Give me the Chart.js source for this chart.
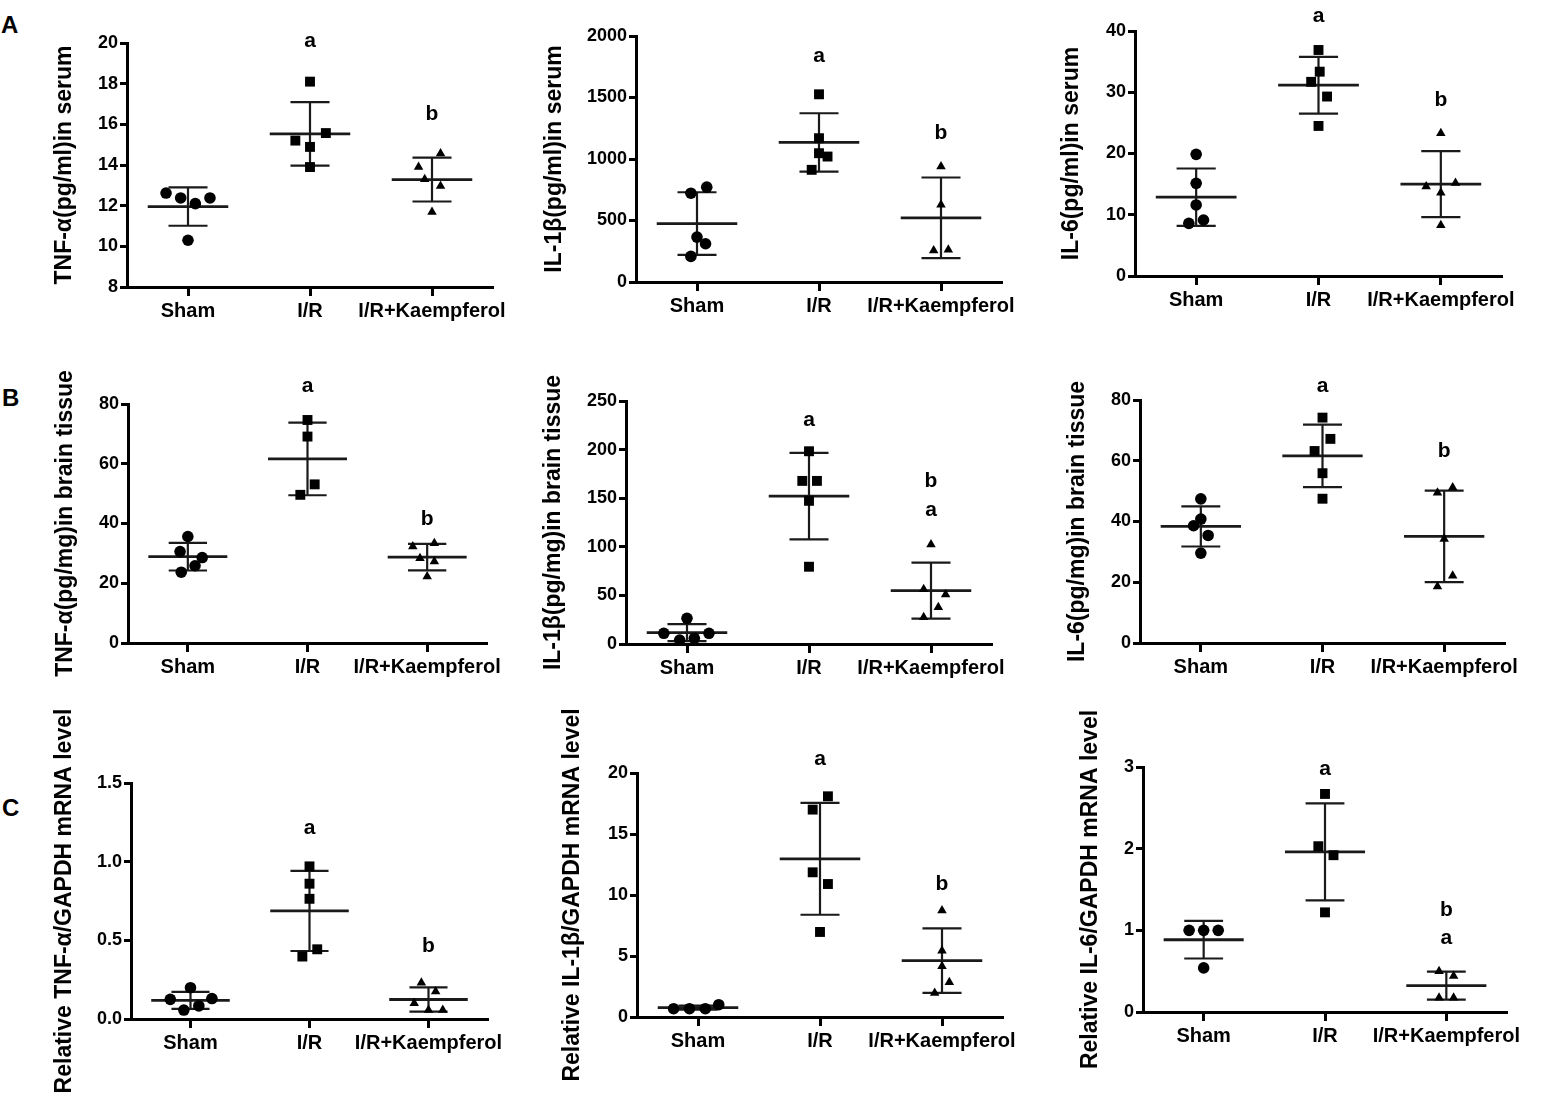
<!DOCTYPE html>
<html>
<head>
<meta charset="utf-8">
<script src="https://cdn.jsdelivr.net/npm/chart.js@4.4.1/dist/chart.umd.min.js"></script>
<style>
html, body { margin: 0; padding: 0; background: #fff; width: 1546px; height: 1100px; overflow: hidden; position: relative; }
canvas { position: absolute; }
.panel-letter { position: absolute; font-family: "Liberation Sans", Arial, sans-serif; font-size: 24px; font-weight: bold; line-height: 1; color: #000; }
</style>
</head>
<body>
<div class="panel-letter" style="left:1px;top:13px">A</div>
<div class="panel-letter" style="left:2px;top:386px">B</div>
<div class="panel-letter" style="left:2px;top:796px">C</div>
<script>
var groups = ['Sham', 'I/R', 'I/R+Kaempferol'];

// values per group [Sham, I/R, I/R+Kaempferol], jitter in category units
var tnfSerum = [[12.62, 12.38, 12.10, 12.38, 10.30], [18.1, 15.57, 15.2, 14.89, 13.9], [14.56, 13.9, 13.3, 12.97, 11.69]];
var tnfSerumJitter = [[-0.18, -0.06, 0.06, 0.18, 0], [0, 0.13, -0.12, 0, 0], [0.07, -0.11, -0.06, 0.07, 0]];
var tnfSerumLetters = [['a', 2, 20.1], ['b', 3, 16.5]];

var il1bSerum = [[722, 771, 365, 311, 208], [1526, 1169, 1047, 1020, 912], [939, 628, 257, 262]];
var il1bSerumJitter = [[-0.05, 0.08, 0, 0.07, -0.05], [0, 0, 0, 0.07, -0.06], [0, 0, -0.06, 0.06]];
var il1bSerumLetters = [['a', 2, 1838], ['b', 3, 1210]];

var il6Serum = [[19.86, 15.13, 11.6, 9.14, 8.6], [36.9, 33.36, 31.7, 29.3, 24.5], [23.3, 14.6, 15.2, 13.6, 8.3]];
var il6SerumJitter = [[0, 0, 0, 0.06, -0.06], [0, 0.01, -0.06, 0.07, 0], [0, -0.12, 0.12, 0, 0]];
var il6SerumLetters = [['a', 2, 42.4], ['b', 3, 28.7]];

var tnfBrain = [[35.65, 30.6, 28.6, 25.85, 23.7], [74.65, 69.1, 53.1, 49.6], [32.3, 33.4, 28.4, 27.3, 22.3]];
var tnfBrainJitter = [[0, -0.065, 0.12, 0.06, -0.055], [0, 0, 0.06, -0.06], [-0.12, 0.06, -0.06, 0.06, 0]];
var tnfBrainLetters = [['a', 2, 85.8], ['b', 3, 41.4]];

var il1bBrain = [[26.4, 11.0, 11.0, 4.1, 5.8], [198.3, 167.8, 167.8, 147.3, 79.5], [102.4, 56.2, 51.0, 37.7, 27.4]];
var il1bBrainJitter = [[0, -0.19, 0.18, -0.06, 0.06], [0, -0.055, 0.065, 0, 0], [0, -0.06, 0.12, 0.06, -0.06]];
var il1bBrainLetters = [['a', 2, 230], ['b', 3, 167.8], ['a', 3, 137.7]];

var il6Brain = [[47.45, 40.8, 38.6, 35.4, 29.6], [74.2, 67.2, 63.2, 55.9, 47.5], [49.5, 51.2, 34.2, 22.1, 18.6]];
var il6BrainJitter = [[0, 0, -0.06, 0.06, 0], [0, 0.065, -0.065, 0, 0], [-0.055, 0.07, 0, 0.07, -0.055]];
var il6BrainLetters = [['a', 2, 84.4], ['b', 3, 63.0]];

var tnfMrna = [[0.199, 0.125, 0.13, 0.083, 0.057], [0.97, 0.86, 0.764, 0.443, 0.397], [0.231, 0.174, 0.1, 0.057, 0.057]];
var tnfMrnaJitter = [[0, -0.17, 0.18, 0.07, -0.056], [0, 0, 0, 0.065, -0.06], [-0.06, 0.06, -0.12, 0, 0.12]];
var tnfMrnaLetters = [['a', 2, 1.214], ['b', 3, 0.46]];

var il1bMrna = [[0.68, 0.68, 0.68, 1.01], [18.09, 17.0, 11.86, 10.9, 6.97], [8.72, 5.44, 4.15, 2.84, 1.97]];
var il1bMrnaJitter = [[-0.2, -0.07, 0.06, 0.17], [0.065, -0.06, -0.06, 0.065, 0], [0, 0, 0, 0.06, -0.06]];
var il1bMrnaLetters = [['a', 2, 21.1], ['b', 3, 10.85]];

var il6Mrna = [[1.0, 1.0, 1.0, 0.54], [2.67, 2.03, 1.92, 1.22], [0.5, 0.44, 0.175, 0.175]];
var il6MrnaJitter = [[-0.12, 0, 0.12, 0], [0, -0.055, 0.07, 0], [-0.06, 0.06, -0.06, 0.06]];
var il6MrnaLetters = [['a', 2, 2.97], ['b', 3, 1.245], ['a', 3, 0.898]];

var yTitles = ['TNF-α(pg/ml)in serum', 'IL-1β(pg/ml)in serum', 'IL-6(pg/ml)in serum',
    'TNF-α(pg/mg)in brain tissue', 'IL-1β(pg/mg)in brain tissue', 'IL-6(pg/mg)in brain tissue',
    'Relative TNF-α/GAPDH mRNA level', 'Relative IL-1β/GAPDH mRNA level', 'Relative IL-6/GAPDH mRNA level'];
var yMin = [8, 0, 0, 0, 0, 0, 0, 0, 0];
var yMax = [20, 2000, 40, 80, 250, 80, 1.5, 20, 3];
var yStep = [2, 500, 10, 20, 50, 20, 0.5, 5, 1];
var yDecimals = [0, 0, 0, 0, 0, 0, 1, 0, 0];

// layout: plot area left, top, right, bottom and y title centre x (page px)
var panelBoxes = [
    [127, 43, 493, 287, 65], [636, 36, 1002, 282, 555], [1135, 31, 1502, 276, 1072],
    [128, 404, 487, 643, 66], [626, 401, 992, 644, 554], [1140, 400, 1505, 643, 1078],
    [131, 783, 488, 1019, 65], [637, 773, 1003, 1017, 573], [1143, 767, 1507, 1012, 1091]
];

var panelValues = [tnfSerum, il1bSerum, il6Serum, tnfBrain, il1bBrain, il6Brain, tnfMrna, il1bMrna, il6Mrna];
var panelJitter = [tnfSerumJitter, il1bSerumJitter, il6SerumJitter, tnfBrainJitter, il1bBrainJitter, il6BrainJitter, tnfMrnaJitter, il1bMrnaJitter, il6MrnaJitter];
var panelLetters = [tnfSerumLetters, il1bSerumLetters, il6SerumLetters, tnfBrainLetters, il1bBrainLetters, il6BrainLetters, tnfMrnaLetters, il1bMrnaLetters, il6MrnaLetters];

var FONT = "'Liberation Sans', Arial, sans-serif";
var shapes = ['circle', 'rect', 'triangle'];
var radii = [5.8, 7, 5.5];
var Y_W = 95, X_H = 40, PAD_T = 90, PAD_B = 90, PAD_R = 30;

function mean(a) {
    var s = 0;
    for (var i = 0; i < a.length; i++) s += a[i];
    return s / a.length;
}

function sd(a) {
    var m = mean(a), s = 0;
    for (var i = 0; i < a.length; i++) s += (a[i] - m) * (a[i] - m);
    return Math.sqrt(s / (a.length - 1));
}

function makeMeanSdPlugin(values, letters) {
    return {
        id: 'meanSd',
        beforeDatasetsDraw: function (chart) {
            var xs = chart.scales.x, ys = chart.scales.y, ctx = chart.ctx;
            ctx.save();
            ctx.strokeStyle = '#1a1a1a';
            for (var g = 0; g < values.length; g++) {
                var m = mean(values[g]), s = sd(values[g]), c = g + 1;
                var ym = ys.getPixelForValue(m), yt = ys.getPixelForValue(m + s), yb = ys.getPixelForValue(m - s);
                ctx.lineWidth = 2.8;
                ctx.beginPath();
                ctx.moveTo(xs.getPixelForValue(c - 0.33), ym);
                ctx.lineTo(xs.getPixelForValue(c + 0.33), ym);
                ctx.stroke();
                ctx.lineWidth = 2.2;
                ctx.beginPath();
                ctx.moveTo(xs.getPixelForValue(c), yt);
                ctx.lineTo(xs.getPixelForValue(c), yb);
                ctx.moveTo(xs.getPixelForValue(c - 0.16), yt);
                ctx.lineTo(xs.getPixelForValue(c + 0.16), yt);
                ctx.moveTo(xs.getPixelForValue(c - 0.16), yb);
                ctx.lineTo(xs.getPixelForValue(c + 0.16), yb);
                ctx.stroke();
            }
            ctx.restore();
        },
        afterDraw: function (chart) {
            var xs = chart.scales.x, ys = chart.scales.y, ctx = chart.ctx;
            ctx.save();
            ctx.fillStyle = '#000';
            ctx.font = 'bold 21px ' + FONT;
            ctx.textAlign = 'center';
            ctx.textBaseline = 'middle';
            letters.forEach(function (l) {
                ctx.fillText(l[0], xs.getPixelForValue(l[1]), ys.getPixelForValue(l[2]));
            });
            ctx.restore();
        }
    };
}

function buildPanel(p) {
    var box = panelBoxes[p];
    var canvas = document.createElement('canvas');
    var w = box[2] - box[0] + Y_W + PAD_R;
    var h = box[3] - box[1] + PAD_T + X_H + PAD_B;
    canvas.width = w;
    canvas.height = h;
    canvas.style.left = (box[0] - Y_W) + 'px';
    canvas.style.top = (box[1] - PAD_T) + 'px';
    document.body.appendChild(canvas);

    var values = panelValues[p], jitter = panelJitter[p];
    var datasets = values.map(function (vals, g) {
        return {
            data: vals.map(function (v, i) { return { x: g + 1 + jitter[g][i], y: v }; }),
            pointStyle: shapes[g],
            pointRadius: radii[g],
            pointBackgroundColor: '#000',
            pointBorderColor: '#000',
            pointBorderWidth: 0
        };
    });
    var titleFont = { family: FONT, size: 23, weight: 'bold' };
    var titlePad = box[4] - (box[0] - Y_W) - 23 * 1.2 / 2;
    var dec = yDecimals[p];

    new Chart(canvas, {
        type: 'scatter',
        data: { datasets: datasets },
        plugins: [makeMeanSdPlugin(values, panelLetters[p])],
        options: {
            responsive: false,
            animation: false,
            layout: { autoPadding: false, padding: { top: PAD_T, right: PAD_R, bottom: PAD_B, left: 0 } },
            plugins: { legend: { display: false }, tooltip: { enabled: false } },
            scales: {
                x: {
                    type: 'linear', min: 0.5, max: 3.5,
                    afterFit: function (s) { s.height = X_H; },
                    afterBuildTicks: function (s) { s.ticks = [{ value: 1 }, { value: 2 }, { value: 3 }]; },
                    ticks: {
                        callback: function (v) { return groups[v - 1]; },
                        font: { family: FONT, size: 20, weight: 'bold' },
                        color: '#000', maxRotation: 0, autoSkip: false, padding: 3
                    },
                    grid: { drawOnChartArea: false, drawTicks: true, tickLength: 9, tickWidth: 3, tickColor: '#000' },
                    border: { display: true, color: '#000', width: 3 }
                },
                y: {
                    min: yMin[p], max: yMax[p],
                    afterFit: function (s) { s.width = Y_W; },
                    ticks: {
                        stepSize: yStep[p],
                        callback: function (v) { return v.toFixed(dec); },
                        font: { family: FONT, size: 18, weight: 'bold' },
                        color: '#000', padding: 2
                    },
                    grid: { drawOnChartArea: false, drawTicks: true, tickLength: 7, tickWidth: 3, tickColor: '#000' },
                    border: { display: true, color: '#000', width: 3 },
                    title: { display: true, text: yTitles[p], font: titleFont, color: '#000', padding: { top: titlePad, bottom: 0 } }
                }
            }
        }
    });
}

for (var p = 0; p < panelBoxes.length; p++) {
    buildPanel(p);
}
</script>
</body>
</html>
